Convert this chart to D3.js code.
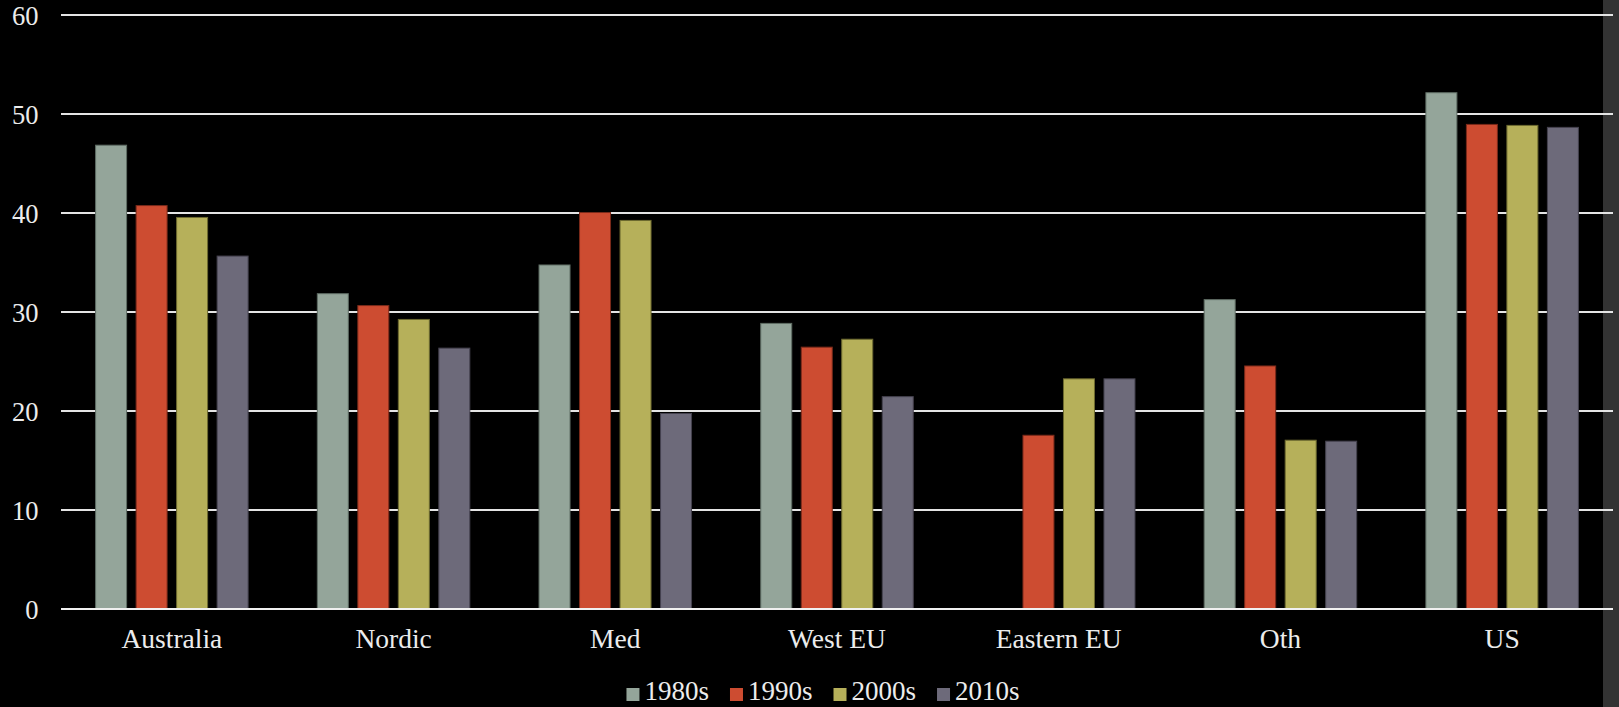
<!DOCTYPE html>
<html>
<head>
<meta charset="utf-8">
<script src="https://cdn.jsdelivr.net/npm/d3@7/dist/d3.min.js"></script>
<style>
  html, body { margin: 0; padding: 0; background: #000; overflow: hidden; }
  svg { display: block; }
  text { font-family: "Liberation Serif", "Times New Roman", serif; fill: #ececec; }
</style>
</head>
<body>
<svg id="chart" width="1619" height="707"></svg>
<script>
// Regions and decades
const categories = ["Australia", "Nordic", "Med", "West EU", "Eastern EU", "Oth", "US"];
const series = ["1980s", "1990s", "2000s", "2010s"];

// Values per decade, one entry per region (null = no data)
const values1980s = [46.9, 31.9, 34.8, 28.9, null, 31.3, 52.2];
const values1990s = [40.8, 30.7, 40.1, 26.5, 17.6, 24.6, 49.0];
const values2000s = [39.6, 29.3, 39.3, 27.3, 23.3, 17.1, 48.9];
const values2010s = [35.7, 26.4, 19.8, 21.5, 23.3, 17.0, 48.7];

const yTicks = [0, 10, 20, 30, 40, 50, 60];
const colors = ["#94a59a", "#cd4c31", "#b6b05a", "#6d6a7a"];
const strokes = ["#5f6d64", "#7a2a1a", "#6d6a30", "#45424f"];

const seriesValues = [values1980s, values1990s, values2000s, values2010s];
const rows = categories.map((c, i) => ({
  category: c,
  bars: series.map((s, j) => ({ key: s, value: seriesValues[j][i], idx: j }))
}));

const svg = d3.select("#chart");
const W = 1619, H = 707;
const plot = { left: 61, right: 1613, top: 15, bottom: 609 };
const tickFont = 26.5;
const catFont = 27.5;

// Right-side scroll strip
svg.append("rect")
  .attr("x", 1603).attr("y", 0)
  .attr("width", W - 1603).attr("height", H)
  .attr("fill", "#333333");

const y = d3.scaleLinear().domain([0, 60]).range([plot.bottom, plot.top]);
const x0 = d3.scaleBand().domain(categories).range([plot.left, plot.right]).padding(0);
const x1 = d3.scaleBand().domain(series).range([0, x0.bandwidth()])
  .paddingInner(0.21).paddingOuter(0.842);

// Horizontal grid lines
svg.append("g")
  .selectAll("line")
  .data(yTicks.filter(t => t > 0))
  .join("line")
  .attr("x1", plot.left).attr("x2", plot.right)
  .attr("y1", d => y(d)).attr("y2", d => y(d))
  .attr("stroke", "#e4e4e4")
  .attr("stroke-width", 2);

// Y axis tick labels
const yAxis = d3.axisLeft(y).tickValues(yTicks).tickSize(0).tickPadding(0);
const gy = svg.append("g")
  .attr("transform", `translate(38.5,0)`)
  .call(yAxis);
gy.select(".domain").remove();
gy.selectAll("text")
  .attr("font-size", tickFont)
  .attr("font-family", "Liberation Serif, serif")
  .attr("fill", "#ececec")
  .attr("dy", "0.36em");

// Bars
const groups = svg.append("g")
  .selectAll("g")
  .data(rows)
  .join("g")
  .attr("transform", d => `translate(${x0(d.category)},0)`);

groups.selectAll("rect")
  .data(d => d.bars.filter(b => b.value != null))
  .join("rect")
  .attr("x", d => x1(d.key) + 0.5)
  .attr("y", d => y(d.value) + 0.5)
  .attr("width", x1.bandwidth() - 1)
  .attr("height", d => y(0) - y(d.value) - 0.5)
  .attr("fill", d => colors[d.idx])
  .attr("stroke", d => strokes[d.idx])
  .attr("stroke-width", 1);

// Baseline
svg.append("line")
  .attr("x1", plot.left).attr("x2", plot.right)
  .attr("y1", y(0)).attr("y2", y(0))
  .attr("stroke", "#f0f0f0")
  .attr("stroke-width", 2);

// Category labels
const xAxis = d3.axisBottom(x0).tickSize(0).tickPadding(0);
const gx = svg.append("g")
  .attr("transform", `translate(0,${plot.bottom})`)
  .call(xAxis);
gx.select(".domain").remove();
gx.selectAll("text")
  .attr("font-size", catFont)
  .attr("font-family", "Liberation Serif, serif")
  .attr("fill", "#ececec")
  .attr("dy", null)
  .attr("y", 39);

// Legend
const legend = svg.append("g");
const items = legend.selectAll("g")
  .data(series)
  .join("g");
items.append("rect")
  .attr("width", 13).attr("height", 13)
  .attr("y", 688)
  .attr("fill", (d, i) => colors[i]);
items.append("text")
  .attr("x", 18)
  .attr("y", 700)
  .attr("font-size", 27)
  .text(d => d);

const gap = 21;
const widths = items.nodes().map(n =>
  18 + d3.select(n).select("text").node().getComputedTextLength());
const total = d3.sum(widths) + gap * (widths.length - 1);
let start = 823 - total / 2;
items.attr("transform", (d, i) => {
  const tx = start;
  start += widths[i] + gap;
  return `translate(${tx},0)`;
});
</script>
</body>
</html>
